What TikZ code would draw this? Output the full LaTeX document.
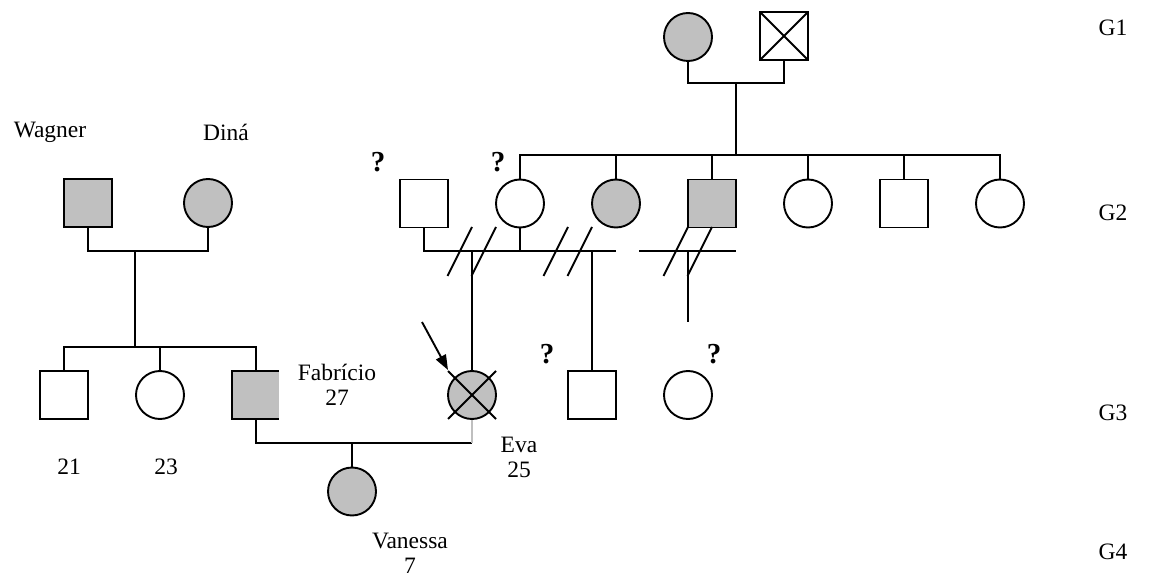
\documentclass[tikz,border=0pt]{standalone}
\usepackage{fontspec}
\setmainfont{Liberation Serif}
\usetikzlibrary{arrows.meta,calc}
\definecolor{affc}{HTML}{C0C0C0}
\begin{document}
\begin{tikzpicture}[x=1pt,y=-1pt,line width=1.9pt,
  male/.style={draw,rectangle,minimum size=48pt,inner sep=0pt},
  female/.style={draw,circle,minimum size=48pt,inner sep=0pt},
  aff/.style={fill=affc},
  crossed/.style={path picture={\draw (path picture bounding box.north west)--(path picture bounding box.south east) (path picture bounding box.north east)--(path picture bounding box.south west);}},
  lbl/.style={font=\fontsize{23.5}{25}\selectfont,align=center,inner sep=0pt},
  qm/.style={font=\fontsize{29}{30}\selectfont\bfseries,inner sep=0pt}]
\useasboundingbox (0,0) rectangle (1161,577);
% G1
\node[female,aff] (g1f) at (688,37) {};
\node[male,crossed] (g1m) at (784,36) {};
\coordinate (g1c) at (736,83);
\coordinate (g2s) at (736,155);
\draw (g1f.south) |- (g1c) -| (g1m.south);
\draw (g1c) -- (g2s);
% G2
\node[male] (p1) at (424,203.5) {};
\node[female] (p2) at (520,203.5) {};
\node[female,aff] (p3) at (616,203.5) {};
\node[male,aff] (p4) at (712,203.5) {};
\node[female] (p5) at (808,203.5) {};
\node[male] (p6) at (904,203.5) {};
\node[female] (p7) at (1000,203.5) {};
\node[qm] (qa) at (378,162) {?};
\node[qm] (qb) at (498,162) {?};
\draw (p2.north) |- (g2s) -| (p7.north);
\foreach \n in {p3,p4,p5,p6} \draw (\n.north) -- (\n.north |- g2s);
% marriages G2
\coordinate (m1) at (616,251);
\coordinate (m2a) at (639,251);
\coordinate (m2b) at (736,251);
\draw (p1.south) |- (m1);
\draw (p2.south) -- (p2.south |- m1);
\draw (m2a) -- (m2b);
\draw (472,227) -- (447.5,276);
\draw (496,227) -- (471.5,276);
\draw (568,227) -- (543.5,276);
\draw (592,227) -- (567.5,276);
\draw (688,227) -- (663.5,276);
\draw (712,227) -- (687.5,276);
\coordinate (k1) at (688,251);
\coordinate (k2) at (688,322);
\draw (k1) -- (k2);
% left family
\node[lbl] (lw) at (50,132) {Wagner};
\node[lbl] (ld) at (226,132) {Diná};
\node[male,aff] (wag) at (88,203) {};
\node[female,aff] (din) at (208,203) {};
\coordinate (wdc) at (135,251);
\coordinate (ws) at (135,347);
\draw (wag.south) |- (wdc) -| (din.south);
\draw (wdc) -- (ws);
% G3
\node[male] (c1) at (64,395) {};
\node[female] (c2) at (160,395) {};
\node[male,aff] (fab) at (256,395) {};
\fill[white] (279,369) rectangle (283,421);
\draw (c1.north) |- (ws) -| (fab.north);
\draw (c2.north) -- (c2.north |- ws);
\node[female,aff] (eva) at (472,395) {};
\draw ([shift={(-24,-24)}]eva.center) -- ([shift={(24,24)}]eva.center);
\draw ([shift={(24,-24)}]eva.center) -- ([shift={(-24,24)}]eva.center);
\node[male] (s3) at (592,395) {};
\node[female] (d3) at (688,395) {};
\node[qm] (qc) at (547,354) {?};
\node[qm] (qd) at (714,354) {?};
\draw (eva.north) -- (eva.north |- m1);
\draw (s3.north) -- (s3.north |- m1);
\coordinate (arrS) at (422,322);
\coordinate (arrE) at (448,370);
\draw[-{Triangle[length=15pt,width=11pt]}] (arrS) -- (arrE);
% Fabricio - Eva
\coordinate (fv) at (352,443);
\draw (fab.south) |- (fv) -- (fv -| eva.south);
\draw[black!25] (fv -| eva.south) -- (eva.south);
\node[female,aff] (van) at (352,491.5) {};
\draw (fv) -- (van.north);
% labels
\node[lbl] (l21) at (69,467) {21};
\node[lbl] (l23) at (166,467) {23};
\node[lbl] (lfab) at (337,384.5) {Fabrício\\27};
\node[lbl] (leva) at (519,457) {Eva\\25};
\node[lbl] (lvan) at (410,553) {Vanessa\\7};
\node[lbl] (G1) at (1113,28) {G1};
\node[lbl] (G2) at (1113,213) {G2};
\node[lbl] (G3) at (1113,413) {G3};
\node[lbl] (G4) at (1113,552) {G4};
\end{tikzpicture}
\end{document}
